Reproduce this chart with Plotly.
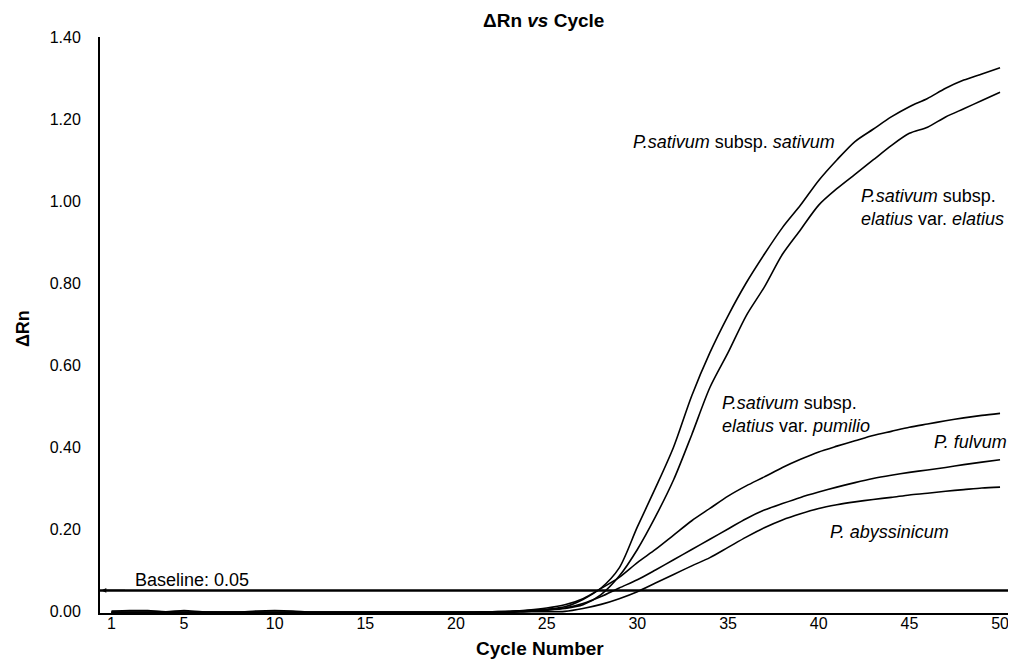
import plotly.graph_objects as go

cycles = list(range(1, 51))

sativum = [0.000, 0.001, 0.001, -0.002, 0.001, -0.002, -0.003, -0.003, 0.000, 0.001,
           0.000, -0.003, -0.003, -0.003, -0.003, -0.003, -0.003, -0.003, -0.003, -0.003,
           -0.003, -0.002, -0.001, 0.001, 0.004, 0.010, 0.028, 0.056, 0.105, 0.205,
           0.300, 0.400, 0.525, 0.630, 0.720, 0.800, 0.870, 0.935, 0.990, 1.050,
           1.100, 1.145, 1.175, 1.205, 1.230, 1.250, 1.275, 1.295, 1.310, 1.325]

elatius = [-0.003, -0.003, -0.003, -0.003, -0.003, -0.003, -0.003, -0.003, -0.003, -0.003,
           -0.003, -0.003, -0.003, -0.003, -0.003, -0.003, -0.003, -0.003, -0.003, -0.003,
           -0.003, -0.003, -0.002, -0.001, 0.002, 0.006, 0.015, 0.040, 0.085, 0.150,
           0.230, 0.320, 0.430, 0.545, 0.630, 0.720, 0.790, 0.870, 0.930, 0.990,
           1.030, 1.065, 1.100, 1.135, 1.165, 1.180, 1.205, 1.225, 1.245, 1.265]

pumilio = [-0.003, -0.003, -0.003, -0.003, -0.003, -0.003, -0.003, -0.003, -0.003, -0.003,
           -0.003, -0.003, -0.003, -0.003, -0.003, -0.003, -0.003, -0.003, -0.003, -0.003,
           -0.003, -0.002, -0.001, 0.002, 0.007, 0.015, 0.030, 0.055, 0.082, 0.118,
           0.150, 0.185, 0.220, 0.250, 0.280, 0.305, 0.327, 0.350, 0.370, 0.388,
           0.402, 0.415, 0.428, 0.438, 0.448, 0.456, 0.464, 0.471, 0.477, 0.482]

fulvum = [-0.003, -0.003, -0.003, -0.003, -0.003, -0.003, -0.003, -0.003, -0.003, -0.003,
          -0.003, -0.003, -0.003, -0.003, -0.003, -0.003, -0.003, -0.003, -0.003, -0.003,
          -0.003, -0.003, -0.002, 0.001, 0.003, 0.007, 0.018, 0.035, 0.056, 0.076,
          0.100, 0.125, 0.150, 0.175, 0.200, 0.225, 0.246, 0.262, 0.277, 0.290,
          0.302, 0.313, 0.323, 0.331, 0.338, 0.344, 0.350, 0.357, 0.363, 0.369]

abyssinicum = [-0.003, -0.003, -0.003, -0.003, -0.003, -0.003, -0.003, -0.003, -0.003, -0.003,
               -0.003, -0.003, -0.003, -0.003, -0.003, -0.003, -0.003, -0.003, -0.003, -0.003,
               -0.003, -0.003, -0.003, -0.002, -0.002, -0.001, 0.006, 0.016, 0.030, 0.047,
               0.068, 0.089, 0.110, 0.130, 0.155, 0.180, 0.203, 0.222, 0.237, 0.250,
               0.259, 0.266, 0.272, 0.277, 0.283, 0.287, 0.292, 0.296, 0.300, 0.302]

series = [sativum, elatius, pumilio, fulvum, abyssinicum]

x_ticks = [1, 5, 10, 15, 20, 25, 30, 35, 40, 45, 50]
y_ticks = [0.0, 0.2, 0.4, 0.6, 0.8, 1.0, 1.2, 1.4]
baseline = 0.05

FONT = "Liberation Sans, Arial, sans-serif"

fig = go.Figure()
for s in series:
    fig.add_trace(go.Scatter(x=cycles, y=s, mode="lines",
                             line=dict(color="black", width=1.6, shape="spline", smoothing=0.8),
                             showlegend=False, hoverinfo="skip"))

fig.add_shape(type="line", xref="paper", yref="y", x0=0, x1=1, y0=baseline, y1=baseline,
              line=dict(color="black", width=2.5))

labels = [
    (29.65, 1.144, "<i>P.sativum</i> subsp. <i>sativum</i>"),
    (42.2, 0.985, "<i>P.sativum</i> subsp.<br><i>elatius</i> var. <i>elatius</i>"),
    (34.56, 0.48, "<i>P.sativum</i> subsp.<br><i>elatius</i> var. <i>pumilio</i>"),
    (46.25, 0.412, "<i>P. fulvum</i>"),
    (40.52, 0.193, "<i>P. abyssinicum</i>"),
]
for x, y, t in labels:
    fig.add_annotation(x=x, y=y, xref="x", yref="y", text=t, showarrow=False,
                       xanchor="left", yanchor="middle", align="left",
                       font=dict(family=FONT, size=18, color="black"))

fig.add_annotation(x=2.18, y=0.0756, xref="x", yref="y", text="Baseline: 0.05",
                   showarrow=False, xanchor="left", yanchor="middle",
                   font=dict(family=FONT, size=18, color="black"))
fig.add_annotation(x=0.45, y=baseline, xref="x", yref="y", text="", showarrow=True,
                   ax=25, ay=0, arrowhead=2, arrowsize=0.8, arrowwidth=1.2,
                   arrowcolor="black")

fig.add_annotation(x=0.4847, y=1.0295, xref="paper", yref="paper",
                   text="<b>ΔRn <i>vs</i> Cycle</b>", showarrow=False,
                   xanchor="center", yanchor="middle",
                   font=dict(family=FONT, size=19, color="black"))
fig.add_annotation(x=0.48, y=-0.062, xref="paper", yref="paper",
                   text="<b>Cycle Number</b>", showarrow=False,
                   xanchor="center", yanchor="middle",
                   font=dict(family=FONT, size=19, color="black"))
fig.add_annotation(x=-0.084, y=0.493, xref="paper", yref="paper",
                   text="<b>ΔRn</b>", showarrow=False, textangle=-90,
                   xanchor="center", yanchor="middle",
                   font=dict(family=FONT, size=18, color="black"))

fig.update_layout(
    width=1008, height=652,
    margin=dict(l=92, r=0, t=29, b=47),
    paper_bgcolor="white", plot_bgcolor="white",
    xaxis=dict(range=[0.368, 50.88], tickvals=x_ticks, ticktext=[str(v) for v in x_ticks],
               showgrid=False, zeroline=False, showline=True, linecolor="black",
               linewidth=2, ticks="", ticklabelstandoff=-5,
               tickfont=dict(family=FONT, size=16, color="black")),
    yaxis=dict(range=[-0.005, 1.40], tickvals=y_ticks,
               ticktext=[f"{v:.2f}" for v in y_ticks],
               showgrid=False, zeroline=False, showline=True, linecolor="black",
               linewidth=2, ticks="", ticklabelstandoff=14,
               tickfont=dict(family=FONT, size=16, color="black")),
)

fig.write_html("out.html")
